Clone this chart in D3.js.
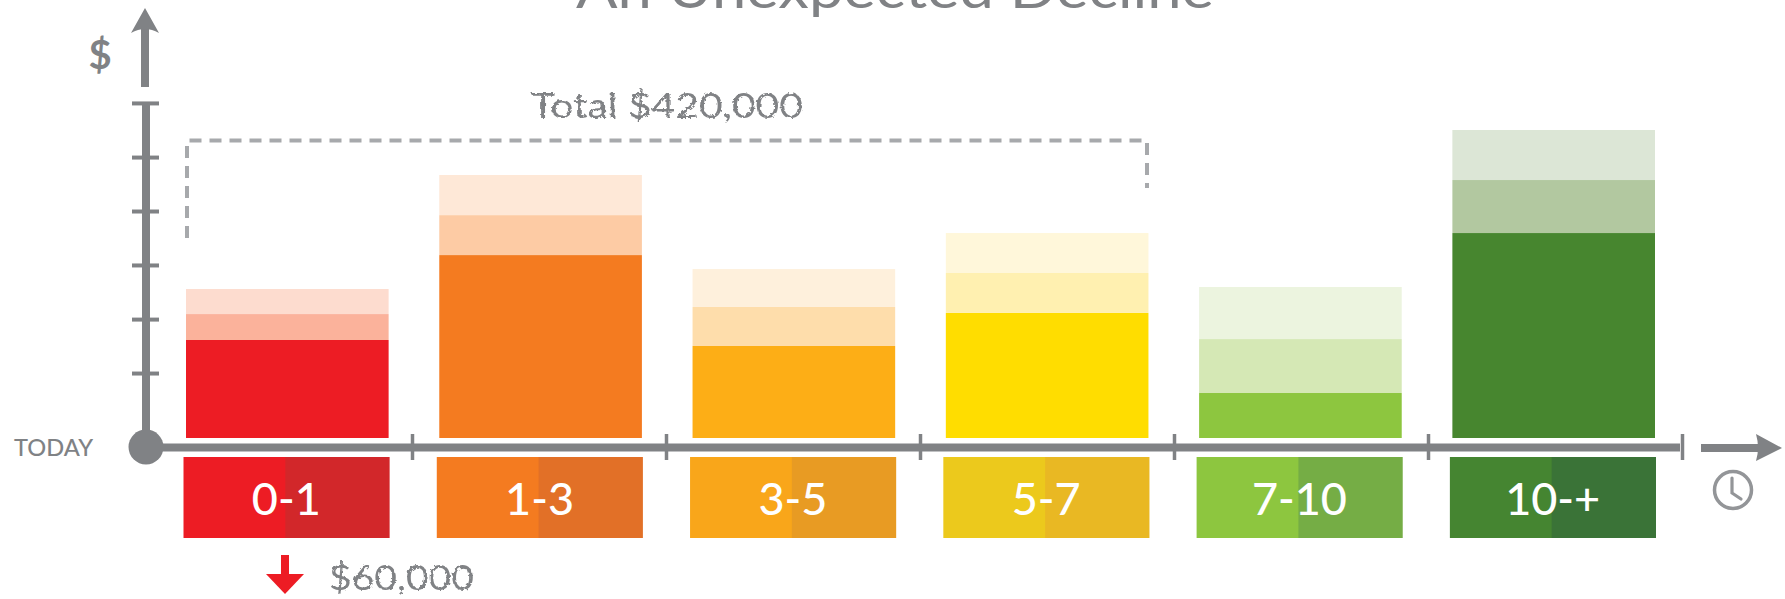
<!DOCTYPE html>
<html><head><meta charset="utf-8">
<script src="https://cdn.jsdelivr.net/npm/d3@7"></script>
<style>html,body{margin:0;padding:0;background:#fff;overflow:hidden}svg{display:block}</style>
</head><body><svg id="c" width="1785" height="599"></svg>
<script>
const categories = ["0-1","1-3","3-5","5-7","7-10","10-+"];
const solidValues = [52.5,98,49.3,67,24.1,109.8];
const midValues   = [13.9,21.4,20.9,21.4,28.9,28.4];
const lightValues = [13.4,21.5,20.3,21.4,27.9,26.8];
const solidColors = ["#ED1C24","#F47B20","#FDAE16","#FFDD00","#8DC63F","#47862F"];
const midColors   = ["#FBB29B","#FDCBA4","#FEDDAB","#FFF0B0","#D5E8B5","#B2C8A0"];
const lightColors = ["#FDDCCF","#FEE8D7","#FEF0DC","#FFF7DA","#ECF4DF","#DCE6D6"];
const labelLeft   = ["#ED1C24","#F47B20","#F9A61A","#ECC91C","#8DC63F","#458531"];
const labelRight  = ["#D2272A","#E27027","#E89B23","#E9B823","#75AD45","#3A7337"];
const yTicks = [34.8,63.7,92.7,121.6,150.5,179.5];
const xTicks = [1,2,3,4,5,6];
const titleText = "An Unexpected Decline";
const totalText = "Total $420,000";
const dropText = "$60,000";

const GREY="#808285";
const svg=d3.select("#c");
const defs=svg.append("defs");
const f=defs.append("filter").attr("id","rough").attr("x","-5%").attr("y","-20%").attr("width","110%").attr("height","140%");
f.append("feTurbulence").attr("type","fractalNoise").attr("baseFrequency",0.3).attr("numOctaves",2).attr("seed",4).attr("result","n");
f.append("feDisplacementMap").attr("in","SourceGraphic").attr("in2","n").attr("scale",4);

const x=d3.scaleBand().domain(categories).range([186,1655]).paddingInner(0.2);
const y=d3.scaleLinear().domain([0,180]).range([438,102]);
const xt=d3.scaleLinear().domain([0,6]).range([158,1682]);

const rows=categories.map((c,i)=>({c,i,solid:solidValues[i],mid:midValues[i],light:lightValues[i]}));
const series=d3.stack().keys(["solid","mid","light"])(rows);
const palettes={solid:solidColors,mid:midColors,light:lightColors};
svg.append("g").selectAll("g").data(series).join("g").selectAll("rect")
  .data(s=>s.map(d=>({d,key:s.key}))).join("rect")
  .attr("x",o=>x(o.d.data.c)).attr("width",x.bandwidth())
  .attr("y",o=>y(o.d[1])).attr("height",o=>y(o.d[0])-y(o.d[1]))
  .attr("fill",o=>palettes[o.key][o.d.data.i]);

// y axis
const yAxisG=svg.append("g").attr("transform","translate(146,0)")
  .call(d3.axisLeft(y).tickValues(yTicks).tickFormat("").tickSize(0));
yAxisG.select(".domain").remove();
yAxisG.selectAll(".tick line").attr("x1",-14).attr("x2",13).attr("stroke",GREY).attr("stroke-width",4);
svg.append("line").attr("x1",146).attr("x2",146).attr("y1",y(yTicks[5])).attr("y2",447).attr("stroke",GREY).attr("stroke-width",8);
// y arrow
svg.append("rect").attr("x",141).attr("y",27).attr("width",8).attr("height",60).attr("fill",GREY);
svg.append("path").attr("d","M145 8L159 33Q152 29 145 29Q138 29 131 33Z").attr("fill",GREY);
svg.append("text").attr("x",100).attr("y",69).attr("text-anchor","middle").attr("font-family","Lato").attr("font-size",40).attr("font-weight",700).attr("fill",GREY).text("$");

// dashed bracket
svg.append("path").attr("d",`M187 238V140.5H1147V188`).attr("fill","none").attr("stroke","#A7A9AC").attr("stroke-width",4).attr("stroke-dasharray","12 8");

// x axis
svg.append("line").attr("x1",146).attr("x2",1680).attr("y1",447.5).attr("y2",447.5).attr("stroke",GREY).attr("stroke-width",8);
const xAxisG=svg.append("g").attr("transform","translate(0,447)")
  .call(d3.axisBottom(xt).tickValues(xTicks).tickFormat("").tickSize(0));
xAxisG.select(".domain").remove();
xAxisG.selectAll(".tick line").attr("y1",-13).attr("y2",13).attr("stroke",GREY).attr("stroke-width",3.5);
svg.append("circle").attr("cx",146).attr("cy",447).attr("r",17.5).attr("fill",GREY);
svg.append("text").attr("x",14).attr("y",456).attr("font-family","Lato").attr("font-size",23).attr("font-weight",500).attr("textLength",79).attr("lengthAdjust","spacingAndGlyphs").attr("fill",GREY).text("TODAY");
// time arrow
svg.append("rect").attr("x",1701).attr("y",444).attr("width",60).attr("height",8).attr("fill",GREY);
svg.append("path").attr("d","M1756 434L1782 448L1756 461Q1760 448 1756 434Z").attr("fill",GREY);
// clock
const clock=svg.append("g").attr("transform","translate(1733,490)").attr("fill","none").attr("stroke","#939598").attr("stroke-linecap","round");
clock.append("circle").attr("r",18.5).attr("stroke-width",3.5);
clock.append("path").attr("d","M-1 -12V3L8 9").attr("stroke-width",3.2);

// label blocks
const lab=svg.append("g").selectAll("g").data(rows).join("g");
lab.append("rect").attr("x",d=>x(d.c)-2.5).attr("y",457).attr("width",x.bandwidth()/2+1.5).attr("height",81).attr("fill",d=>labelLeft[d.i]);
lab.append("rect").attr("x",d=>x(d.c)+x.bandwidth()/2-2).attr("y",457).attr("width",x.bandwidth()/2+3).attr("height",81).attr("fill",d=>labelRight[d.i]);
lab.append("text").attr("x",d=>x(d.c)+x.bandwidth()/2-1).attr("y",515).attr("text-anchor","middle")
  .attr("font-family","Lato").attr("font-size",45).attr("font-weight",500).attr("fill","#fff").text(d=>d.c);

// title
svg.append("text").attr("x",895).attr("y",8).attr("text-anchor","middle").attr("font-family","Lato").attr("font-size",53).attr("font-weight",400).attr("textLength",638).attr("lengthAdjust","spacingAndGlyphs").attr("fill",GREY).text(titleText);

// hand annotations
const hand=(t,xp,yp,len,sz)=>svg.append("text").attr("x",xp).attr("y",yp).attr("font-family","Lato").attr("font-size",sz).attr("font-weight",400)
  .attr("textLength",len).attr("lengthAdjust","spacingAndGlyphs").attr("fill",GREY).attr("filter","url(#rough)").text(t);
hand(totalText,531,118,272,34);
hand(dropText,329,590,145,34);
// red arrow
svg.append("rect").attr("x",281).attr("y",555).attr("width",8).attr("height",20).attr("fill","#ED1C24");
svg.append("path").attr("d","M266 574H304L285 594Z").attr("fill","#ED1C24");
</script></body></html>
